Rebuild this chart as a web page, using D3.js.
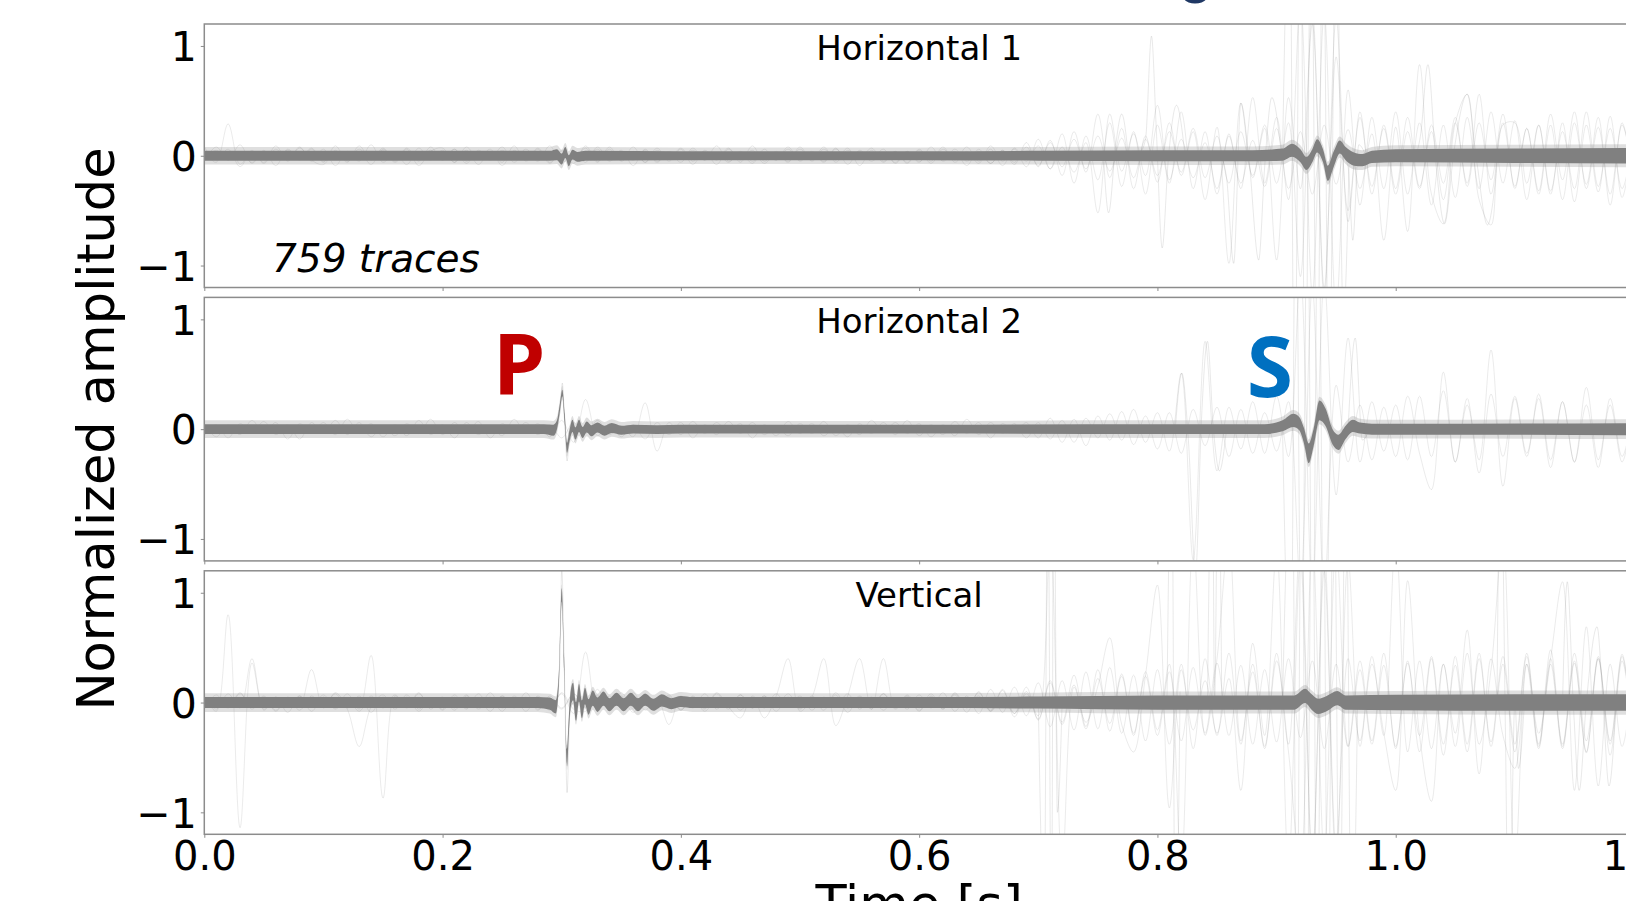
<!DOCTYPE html>
<html><head><meta charset="utf-8">
<script src="https://cdn.jsdelivr.net/npm/d3@7"></script>
<style>html,body{margin:0;padding:0;background:#fff;overflow:hidden}</style>
</head><body><svg id="c" width="1626" height="901" xmlns="http://www.w3.org/2000/svg"></svg>
<script>
// ---------- DATA ----------
const titles = ["Horizontal 1", "Horizontal 2", "Vertical"];
const xTicks = [0, 0.2, 0.4, 0.6, 0.8, 1.0, 1.2];
const yTicks = [-1, 0, 1];
const traceCount = "759 traces";
const phaseLabels = ["P", "S"];
const dt = 0.01; // sample step (s) of the faint noise traces

// stacked band: [time, mean, half-width]
const h1Band = [[0,0,.045],[0.1,0,.045],[0.2,0,.045],[0.29,0,.045],[0.296,.01,.05],[0.3,-.03,.05],[0.303,.03,.05],[0.306,-.045,.05],[0.309,.01,.045],[0.313,-.01,.045],[0.32,0,.045],[0.4,0,.04],[0.5,0,.04],[0.6,0,.04],[0.7,0,.045],[0.8,0,.05],[0.88,0,.05],[0.905,.01,.055],[0.913,.05,.06],[0.92,0,.06],[0.925,-.07,.06],[0.93,0,.06],[0.934,.09,.06],[0.939,0,.06],[0.943,-.16,.07],[0.948,-.03,.07],[0.953,.08,.06],[0.958,.02,.06],[0.965,-.03,.06],[0.972,-.04,.055],[0.98,-.01,.055],[1.0,0,.06],[1.1,0,.065],[1.2,0,.07]];
const h2Band = [[0,0,.045],[0.2,0,.045],[0.285,0,.045],[0.293,-.01,.05],[0.296,.04,.04],[0.2985,.2,.035],[0.3005,.33,.03],[0.3025,.1,.04],[0.3045,-.17,.045],[0.3065,-.06,.05],[0.309,.03,.055],[0.3115,-.04,.055],[0.3145,.03,.055],[0.3175,-.03,.05],[0.321,.02,.05],[0.325,-.015,.05],[0.33,.015,.045],[0.336,-.015,.045],[0.342,.01,.045],[0.35,-.01,.04],[0.36,0,.04],[0.38,-.005,.04],[0.4,0,.04],[0.6,0,.04],[0.8,0,.045],[0.89,0,.045],[0.905,.03,.05],[0.914,.08,.06],[0.919,.05,.06],[0.923,-.06,.07],[0.927,-.22,.09],[0.931,-.08,.08],[0.936,.17,.09],[0.941,.11,.08],[0.947,-.07,.07],[0.952,-.12,.07],[0.958,-.03,.06],[0.964,.03,.055],[0.97,.01,.05],[0.98,0,.05],[1.0,0,.05],[1.2,0,.055]];
const h3Band = [[0,0,.05],[0.1,0,.05],[0.2,0,.05],[0.28,0,.05],[0.29,-.01,.055],[0.295,-.04,.06],[0.2975,.2,.05],[0.3,.98,.06],[0.302,.35,.06],[0.3045,-.5,.08],[0.306,-.2,.07],[0.3075,.03,.075],[0.3095,.1,.08],[0.312,-.08,.085],[0.3145,.09,.08],[0.317,-.06,.08],[0.3195,.06,.075],[0.3225,-.04,.07],[0.326,.04,.07],[0.33,-.02,.065],[0.335,.035,.065],[0.34,-.02,.06],[0.346,.03,.06],[0.352,-.02,.06],[0.358,.03,.06],[0.364,-.02,.06],[0.37,.025,.055],[0.377,-.02,.055],[0.384,.02,.055],[0.392,-.01,.05],[0.4,.01,.05],[0.41,0,.05],[0.5,0,.05],[0.6,0,.05],[0.7,0,.055],[0.8,0,.065],[0.9,0,.065],[0.915,0,.065],[0.924,.06,.065],[0.929,.01,.07],[0.935,-.035,.07],[0.942,-.01,.07],[0.951,.04,.065],[0.958,0,.065],[1.0,0,.07],[1.1,0,.075],[1.2,0,.075]];

// faint single traces, amplitude x100, one value every dt from t = 0
const h1NoiseA = [4,-6,29,-8,5,-7,6,-4,8,-5, 6,-9,4,-5,10,-6,3,-8,7,-4, 5,-6,8,-3,6,-9,5,-4,7,-6, 4,-7,9,-5,6,-4,8,-6,5,-3, 7,-5,4,-8,6,-4,5,-7,3,-5, 6,-4,8,-6,5,-3,7,-5,4,-6, 5,-7,6,-4,8,-5,6,-9,7,-5, 9,-12,8,-15,12,-52,38,-14,20,-18, 46,-22,15,-20,12,-30,18,-25,14,-28, 25,-30,22,-35,28,-26,24,-30,20,-77, 26,-69,83,-35,-62,30,56,-40,-63,28, 30,-25,28,-32,22,-30,40,-28,25,-30, 20];
const h1NoiseB = [-5,8,-4,10,-7,5,-9,6,-3,7, -6,9,-5,4,-8,6,-4,7,-5,8, -4,6,-7,5,-3,8,-6,4,-5,9, -7,4,-6,8,-4,5,-9,6,-5,3, -6,7,-4,9,-5,3,-7,6,-4,8, -5,4,-6,7,-8,5,-3,6,-7,4, -6,8,-5,4,-9,6,-7,5,-8,12, -10,14,-18,22,-15,38,-20,25,-30,18, -24,30,-18,22,-40,26,-98,48,-20,25, -95,53,-30,120,-130,125,-60,40,-35,28, -30,35,-28,22,-40,30,-25,56,-35,30, -28,25,-32,38,-22,40,-30,26,-35,28, -20];
const h1NoiseC = [8,-4,6,-10,4,-6,9,-5,7,-4, -8,5,-6,9,-4,7,-5,6,-9,4, 7,-6,5,-8,4,-6,9,-5,6,-7, 5,-4,7,-6,8,-5,4,-6,7,-5, 6,-8,5,-4,7,-6,9,-5,4,-6, 8,-5,6,-4,7,-9,5,-6,4,-7, 6,-5,8,-6,4,-7,9,-5,6,-10, 15,-12,20,-25,18,-22,30,-28,22,-35, 28,-25,40,-30,22,-35,20,-30,53,-25, 35,-40,140,-125,130,-140,60,-45,35,-30, 40,-35,30,-45,28,-38,35,-30,40,-25, 32,-40,28,-35,30,-42,28,-33,36,-38, 25];
const h1NoiseD = [-3,5,-4,3,-6,4,-3,5,-4,6, -5,3,-4,6,-3,5,-6,4,-3,5, -4,6,-5,3,-4,5,-3,6,-4,3, -5,4,-3,6,-5,3,-4,5,-6,4, -3,5,-4,3,-6,4,-5,3,-4,6, -4,3,-5,6,-3,4,-5,3,-6,4, -5,3,-4,6,-5,4,-7,5,-6,8, -9,12,-10,15,-12,18,-14,16,-20,15, -18,22,-15,25,-20,18,-25,22,-18,28, -25,30,-110,135,-120,90,-50,35,-28,25, -35,22,-30,28,-25,35,-28,30,-22,38, -30,25,-35,28,-40,30,-26,35,-45,30, -25];
const h2NoiseA = [5,-7,4,-5,8,-4,6,-9,5,-3, 6,-5,9,-4,5,-7,4,-6,8,-5, 4,-8,6,-5,3,-6,9,-4,5,-7, 8,-12,27,-6,5,-7,4,-9,6,-5, 6,-8,4,-5,7,-4,6,-5,3,-6, 5,-4,7,-6,4,-5,8,-3,6,-4, 5,-7,4,-6,9,-5,6,-4,5,-8, 6,-9,8,-12,10,-8,14,-10,18,-12, 15,-20,51,-119,80,-38,20,-18,25,-22, 30,-25,140,-150,135,-60,83,-30,25,-20, 22,-28,30,-25,35,-30,28,-40,32,-25, 30,-22,28,-35,25,-30,38,-28,22,-30, 25];
const h2NoiseB = [-6,4,-8,5,-3,7,-5,4,-9,6, -4,8,-5,6,-7,3,-6,5,-4,9, -5,6,-4,7,-8,5,-3,6,-5,4, -8,6,-4,8,-5,3,-7,24,-20,6, -5,7,-4,6,-3,5,-8,4,-6,7, -4,5,-6,3,-7,5,-4,6,-5,8, -6,4,-5,7,-4,6,-8,5,-3,6, -8,10,-12,9,-15,12,-10,16,-14,12, -18,15,-22,18,-15,20,-25,18,-22,15, -20,25,-140,130,-145,40,-30,22,-28,20, -25,30,-22,-55,52,-30,22,-28,72,-52, 28,-25,32,-28,25,-30,22,-35,28,-25, 20];
const h3NoiseA = [6,-8,80,-114,36,-6,5,-9,6,-4, 7,-5,8,-6,43,-87,6,-5,8,-4, 5,-7,6,-4,9,-5,4,-8,6,-5, 8,-10,46,-8,6,-5,9,-7,4,-20, 6,-5,8,-6,4,-7,5,-14,6,40, -8,5,40,-21,6,40,-6,40,-5,7, -5,8,-6,9,-4,6,-8,5,-10,8, -12,150,-150,14,-18,15,59,-20,-45,25, 107,-96,30,-25,20,-28,22,-80,54,-30, 140,-150,130,-140,120,-150,130,-40,35,-28, -80,111,-30,-90,35,-28,66,-65,40,-30, -60,35,-28,40,110,-80,69,-76,35,-40, 30];
const h3NoiseB = [-5,7,-4,9,-6,5,-8,4,-7,6, -4,8,-5,6,-9,5,-4,7,-6,4, -7,5,-6,8,-4,6,-5,9,-6,4, -6,8,-5,12,-7,9,-6,8,-5,6, -7,5,-6,8,-4,7,-5,6,-8,5, -6,4,-7,9,-5,6,-4,8,-6,5, -8,6,-5,7,-9,10,-8,12,-10,14, -16,20,-18,25,-22,30,-26,24,-30,28, -25,35,-150,150,-30,40,150,-35,28,-40, 45,-38,150,-150,140,-130,40,-35,42,-30, 150,-45,38,-42,35,-40,45,-38,30,150, -150,35,-42,40,-38,45,-35,42,-48,38, -35];
const h3NoiseC = [4,-6,8,-5,40,-7,5,-4,6,-8, 5,-6,4,-8,6,-5,7,-4,9,-6, 4,-5,7,-6,5,-8,6,-4,5,-7, 9,-6,-8,7,-5,6,-4,8,-6,5, -7,6,-5,9,-4,-14,6,-5,8,-4, 6,-7,5,-4,8,-6,5,-7,4,-6, 7,-5,9,-8,6,-10,12,-9,14,-12, 18,-22,20,-25,28,-24,32,-28,25,-35, 30,-38,35,-42,40,-30,45,-38,35,-42, 38,-45,-150,150,-140,145,-40,38,-35,45, -42,38,-45,40,-48,42,-38,45,-40,35, -45,42,-38,48,-40,36,-45,40,-38,42, -40];
const h3NoiseD = [-6,4,-5,8,-4,6,-7,5,-3,30, -5,9,-6,-40,-4,7,-6,5,-8,4, -6,7,-5,4,-8,6,-4,5,-7,6, -5,8,-4,6,-7,5,-9,6,-4,7, -6,5,-8,4,-6,7,-5,6,-4,8, -5,6,-4,7,-9,5,-6,8,-4,6, -7,5,-6,8,-5,9,-7,11,-13,10, -15,18,-20,16,-24,22,-19,26,-28,24, -30,28,-35,32,-28,36,-30,34,-38,30, -36,40,-32,38,-42,35,-40,30,-38,34, -40,36,-30,42,-38,34,-45,40,-36,42, -38,45,-40,35,-42,38,-46,40,-35,44, -38];

// faint outlier traces: [time, amplitude]
const h1Spikes = [
 [[0.755,-.05],[0.759,-.52],[0.765,.1],[0.77,.38],[0.776,-.05]],
 [[0.785,.02],[0.79,.15],[0.795,1.09],[0.799,.25],[0.804,-.84],[0.809,-.05],[0.816,.46],[0.823,.02]],
 [[0.852,.03],[0.858,-.2],[0.864,-.98],[0.87,.48],[0.877,-.05],[0.885,-.95],[0.89,-.1],[0.896,.53],[0.904,.02]],
 [[0.905,0],[0.911,2.5],[0.915,-2.5],[0.92,2.5],[0.924,-2.5],[0.929,2.5],[0.934,-2.5],[0.939,2.5],[0.944,-2.5],[0.95,2.5],[0.956,-1.5],[0.961,0]],
 [[0.956,0],[0.96,-.1],[0.964,-.77],[0.969,.1],[0.975,0]],
 [[1.015,-.05],[1.021,.2],[1.027,.83],[1.034,-.1],[1.041,-.62],[1.049,.05],[1.06,.56],[1.068,-.05],[1.077,-.63],[1.086,.02]]
];
const h2Spikes = [
 [[0.293,0],[0.2985,.15],[0.3005,.42],[0.3025,.05],[0.3045,-.29],[0.307,-.02],[0.31,.02]],
 [[0.815,0],[0.8205,.51],[0.826,-.1],[0.832,-1.3],[0.837,.1],[0.842,.8],[0.847,0],[0.852,-.38],[0.858,0]],
 [[0.905,0],[0.912,-2.5],[0.916,2.5],[0.921,-2.5],[0.926,2.5],[0.93,-2.5],[0.935,2.5],[0.94,-2.5],[0.945,0]],
 [[0.96,0],[0.966,.83],[0.972,-.1],[0.978,0]]
];
const h3Spikes = [
 [[0.296,0],[0.2985,.4],[0.3,1.22],[0.3025,.15],[0.3045,-.82],[0.307,-.05],[0.31,0]],
 [[0.70,0],[0.705,-2],[0.708,2.5],[0.711,-2.5],[0.713,2.5],[0.716,-1],[0.72,0]],
 [[0.808,0],[0.812,2.5],[0.815,-2.5],[0.819,.1]],
 [[0.842,0],[0.846,2.5],[0.848,0],[0.851,2.5],[0.854,0]],
 [[0.905,0],[0.913,2.5],[0.917,-2.5],[0.921,2.5],[0.925,-2.5],[0.93,2.5],[0.934,-2.5],[0.939,2.5],[0.943,-2.5],[0.948,2.5],[0.953,-2.5],[0.958,2.5],[0.963,-2.5],[0.968,0]],
 [[1.085,0],[1.088,2.5],[1.092,-.2],[1.095,-2.5],[1.1,0],[1.103,-.6],[1.108,0]],
 [[1.14,0],[1.144,1.1],[1.149,0],[1.154,-.8],[1.16,0],[1.169,.69],[1.174,0],[1.179,-.76],[1.185,0]]
];

// ---------- DRAW ----------
const svg = d3.select('#c');
const x = d3.scaleLinear().domain([0, 1.2]).range([204.3, 1634]);
const PH = 263.5;
const panels = [
  {title: titles[0], top: 24,    band: h1Band, noise: [h1NoiseA, h1NoiseB, h1NoiseC, h1NoiseD], spikes: h1Spikes},
  {title: titles[1], top: 297.4, band: h2Band, noise: [h2NoiseA, h2NoiseB], spikes: h2Spikes},
  {title: titles[2], top: 570.8, band: h3Band, noise: [h3NoiseA, h3NoiseB, h3NoiseC, h3NoiseD], spikes: h3Spikes}
];
const defs = svg.append('defs');
const FONT = "'DejaVu Sans', sans-serif";
const fmtY = d => d < 0 ? '\u2212' + Math.abs(d) : String(d);

panels.forEach((p, k) => {
  const y = d3.scaleLinear().domain([-1.2, 1.2]).range([p.top + PH, p.top]);
  const cid = 'clip' + k;
  defs.append('clipPath').attr('id', cid).append('rect')
    .attr('x', x(0)).attr('y', p.top).attr('width', x(1.2) - x(0)).attr('height', PH);
  const plot = svg.append('g').attr('clip-path', `url(#${cid})`);

  const nline = d3.line().x(d => x(d[0])).y(d => y(d[1])).curve(d3.curveCatmullRom.alpha(0.5));
  p.noise.forEach(arr => {
    plot.append('path').datum(arr.map((v, i) => [i * dt, v / 100]))
      .attr('d', nline).attr('fill', 'none')
      .attr('stroke', 'rgba(120,120,120,0.15)').attr('stroke-width', 1);
  });
  const sline = d3.line().x(d => x(d[0])).y(d => y(d[1])).curve(d3.curveMonotoneX);
  p.spikes.forEach(s => {
    plot.append('path').datum(s).attr('d', sline).attr('fill', 'none')
      .attr('stroke', 'rgba(120,120,120,0.16)').attr('stroke-width', 1);
  });

  const outer = d3.area().x(d => x(d[0])).y0(d => y(d[1] - d[2] - 0.035)).y1(d => y(d[1] + d[2] + 0.035)).curve(d3.curveMonotoneX);
  const inner = d3.area().x(d => x(d[0])).y0(d => y(d[1] - d[2])).y1(d => y(d[1] + d[2])).curve(d3.curveMonotoneX);
  plot.append('path').datum(p.band).attr('d', outer).attr('fill', '#808080').attr('opacity', 0.25);
  plot.append('path').datum(p.band).attr('d', inner).attr('fill', '#808080');

  // frame
  svg.append('rect').attr('x', x(0)).attr('y', p.top).attr('width', x(1.2) - x(0)).attr('height', PH)
    .attr('fill', 'none').attr('stroke', '#8c8c8c').attr('stroke-width', 1.5);

  // y axis
  const ya = svg.append('g').attr('transform', `translate(${x(0)},0)`)
    .call(d3.axisLeft(y).tickValues(yTicks).tickFormat(fmtY).tickSize(3.5).tickPadding(4));
  ya.select('.domain').remove();
  ya.selectAll('line').attr('stroke', '#8c8c8c');
  ya.selectAll('text').attr('font-family', FONT).attr('font-size', 41).attr('fill', '#000').attr('dy', '0.36em');

  // x axis
  const last = k === panels.length - 1;
  const xa = svg.append('g').attr('transform', `translate(0,${p.top + PH})`)
    .call(d3.axisBottom(x).tickValues(xTicks).tickFormat(last ? d3.format('.1f') : () => '').tickSize(3.5).tickPadding(3.5));
  xa.select('.domain').remove();
  xa.selectAll('line').attr('stroke', '#8c8c8c');
  xa.selectAll('text').attr('font-family', FONT).attr('font-size', 40).attr('fill', '#000');

  // title
  svg.append('text').attr('x', x(0.6)).attr('y', p.top + 36).attr('text-anchor', 'middle')
    .attr('font-family', FONT).attr('font-size', 34).attr('fill', '#000').text(p.title);
});

// annotations
svg.append('text').attr('x', 272).attr('y', 271.5).attr('font-family', FONT).attr('font-style', 'italic')
  .attr('font-size', 39).attr('fill', '#000').text(traceCount);
svg.append('text').attr('x', 519).attr('y', 394).attr('text-anchor', 'middle')
  .attr('font-family', "'Open Sans', sans-serif").attr('font-weight', 700).attr('font-size', 84)
  .attr('fill', '#C00000').text(phaseLabels[0]);
svg.append('text').attr('x', 1270).attr('y', 397).attr('text-anchor', 'middle')
  .attr('font-family', "'Open Sans', sans-serif").attr('font-weight', 700).attr('font-size', 84)
  .attr('fill', '#0070C0').text(phaseLabels[1]);
// glyph cut at the top edge of the picture
svg.append('text').attr('x', 1195).attr('y', 3).attr('text-anchor', 'middle')
  .attr('font-family', "'Open Sans', sans-serif").attr('font-weight', 700).attr('font-size', 60)
  .attr('fill', '#1F3864').text('o');

// axis titles
svg.append('text').attr('transform', `translate(113.5,429) rotate(-90)`).attr('text-anchor', 'middle')
  .attr('font-family', FONT).attr('font-size', 51).attr('fill', '#000').text('Normalized amplitude');
svg.append('text').attr('x', x(0.6)).attr('y', 922).attr('text-anchor', 'middle')
  .attr('font-family', FONT).attr('font-size', 51).attr('fill', '#000').text('Time [s]');
</script>
</body></html>
